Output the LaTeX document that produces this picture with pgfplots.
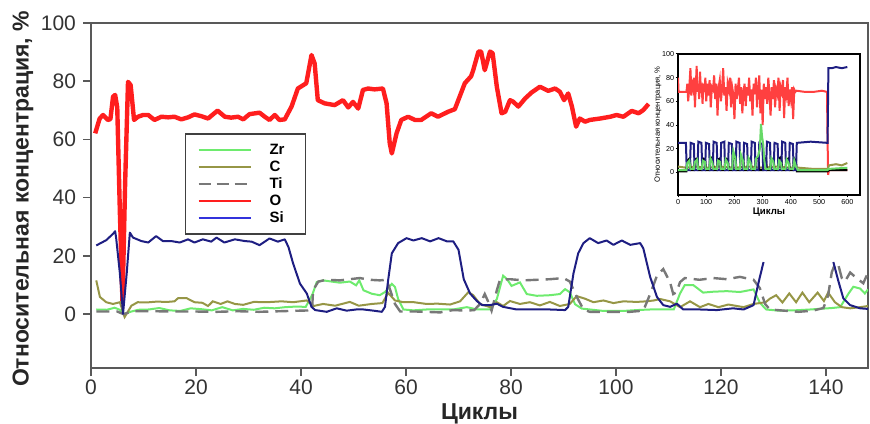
\documentclass[border=0pt]{standalone}
\usepackage{pgfplots}
\pgfplotsset{compat=1.18}
\usepackage{fontspec}
\setmainfont{Liberation Sans}

\definecolor{cZr}{RGB}{110,235,110}
\definecolor{cC}{RGB}{150,150,70}
\definecolor{cTi}{RGB}{120,120,120}
\definecolor{cO}{RGB}{255,30,30}
\definecolor{cSi}{RGB}{30,30,130}
\definecolor{cSiLeg}{RGB}{50,50,220}

\begin{document}
\begin{tikzpicture}
\useasboundingbox (-45.5pt,-27.5pt) rectangle (389.5pt,184pt);

% main chart
\begin{axis}[
  at={(0,0)}, anchor=south west,
  width=388.5pt, height=172.5pt, scale only axis,
  xmin=0, xmax=148, ymin=-18.5, ymax=100,
  xtick={0,20,...,140}, ytick={0,20,...,100},
  xtick pos=bottom, ytick pos=left, tick align=outside,
  major tick length=4pt,
  axis line style={black!65, line width=0.8pt},
  tick style={black!65, line width=0.8pt},
  ticklabel style={font=\fontsize{10.5}{11}\selectfont, text=black!80},
  xticklabel style={inner sep=1.5pt},
  /pgf/number format/assume math mode=true,
  xlabel={Циклы}, ylabel={Относительная концентрация, \%},
  label style={font=\bfseries\fontsize{11.5}{13}\selectfont, text=black!85},
  xlabel style={at={(axis description cs:0.5,-0.133)}, anchor=center},
  ylabel style={at={(axis description cs:-0.0875,0.49)}, anchor=center},
  legend cell align=left,
  legend image code/.code={\draw[#1] (0pt,0pt) -- (26pt,0pt);},
  legend style={at={(axis description cs:0.121,0.68)}, anchor=north west,
    draw=black!75, line width=0.7pt, fill=white,
    font=\bfseries\fontsize{7.5}{8}\selectfont,
    inner xsep=6pt, inner ysep=4.5pt, row sep=1.5pt,
    nodes={inner sep=0pt, text height=5.5pt, text depth=1.5pt},
    /tikz/every odd column/.append style={column sep=9pt},
    /tikz/every even column/.append style={text width=12pt}},
]
\addlegendimage{cZr, line width=0.9pt}\addlegendentry{Zr}
\addlegendimage{cC, line width=0.9pt}\addlegendentry{C}
\addlegendimage{cTi, line width=0.9pt, dash pattern=on 6pt off 3pt}\addlegendentry{Ti}
\addlegendimage{cO, line width=0.9pt}\addlegendentry{O}
\addlegendimage{cSiLeg, line width=0.9pt}\addlegendentry{Si}

% O
\addplot[cO, line width=2.2pt, line join=round, forget plot] coordinates {
(0.8,62.1)(1.65,67.2)(2.3,68.4)(3.2,66.7)(3.7,67)(4.2,74.7)(4.6,75.3)(5.0,71)(5.5,35)(6.0,4)(6.5,45)
(7.05,79.8)(7.55,78.7)(8.2,66.7)(8.95,67.8)(9.9,68.4)(10.9,68.4)(12.1,66.7)(13.4,67.8)(14.7,67.6)
(15.9,67.8)(17.2,66.9)(18.5,67.6)(19.7,68.6)(21.0,68.0)(22.3,67.2)(24.1,69.9)(25.5,67.8)(26.7,67.5)
(28.0,67.8)(29.0,66.9)(30.2,68.7)(32.1,69.2)(33.1,67.8)(34.0,66.7)(35.0,68.4)(35.9,66.7)(36.9,66.9)
(38.2,71.3)(39.4,77.5)(41.0,79.3)(42.0,89.0)(42.6,86.1)(43.2,73.5)(44.5,72.4)(46.4,71.8)(48.0,73.5)
(49.0,71)(49.9,72.9)(50.9,70.6)(51.8,77.0)(52.8,77.5)(54.0,77.2)(55.6,77.5)(56.3,72.4)(56.9,58.7)
(57.3,55.2)(58.2,62.1)(59.1,66.7)(60.4,67.8)(61.7,66.7)(62.9,66.7)(64.8,69.0)(66.1,67.8)(68.0,69.5)
(69.3,70.4)(71.2,79.3)(72.4,81.7)(72.8,83.8)(73.8,90.2)(74.3,90.2)(75.0,83.8)(76.0,90.2)(76.5,89.6)
(77.3,78.1)(78.2,69.0)(78.9,69.5)(79.8,73.5)(80.4,73.0)(81.4,71.3)(82.7,74.1)(83.9,76.1)(85.5,78.1)
(87.1,76.7)(88.4,77.5)(89.3,76.4)(90.1,73.5)(90.9,75.8)(91.6,71.3)(92.4,64.4)(93.1,67.2)(94.1,66.1)
(95.0,66.7)(97.0,67.2)(98.9,67.8)(100.1,68.4)(101.4,67.8)(103.0,69.8)(104.3,69.0)(105.2,70.1)(106.2,72.2)
};

% Zr
\addplot[cZr, line width=1pt, forget plot] coordinates {
(1,1.6)(3,1.5)(4.5,2.2)(5.5,1.5)(6.2,0)(7.5,0.8)(9,1.5)(11,1.6)(13,2.1)(15,1.3)(17,1.1)(19,2.0)
(21,1.7)(23,1.3)(25,2.4)(27,1.3)(29,1.8)(31,1.5)(33,2.2)(35,2.0)(37,2.4)(39,2.6)(40.9,2.5)(42.2,6.9)
(43,11)(44.2,11.6)(47.4,10.8)(49.3,11.2)(50.5,9.9)(51.1,11.6)(51.9,8.2)(53.5,7.0)(55.0,6.5)(56.0,7.6)
(57.3,10.4)(57.9,9.3)(58.5,5.2)(59.5,1.6)(61.4,1.3)(63.9,1.6)(66.5,1.6)(69.0,1.6)(71.6,2.4)(73.5,1.6)
(76,1.6)(77.3,5.2)(78.5,13.2)(79.2,12.1)(80.1,9.7)(81.7,10.9)(83,6.9)(84.9,6.3)(87.4,6.5)(89.3,6.9)
(90.3,8.6)(91.2,7.5)(92.2,3.4)(93.5,1.9)(97.6,1.1)(101.4,1.1)(104,1.4)(106.5,1.6)(108.4,1.6)(111,1.6)
(112.2,7.1)(113.1,10.0)(114.7,10)(116.6,7.4)(118.5,7.7)(121.1,7.9)(123.6,7.6)(126.2,8.5)(126.8,6.2)
(127.4,3.9)(128.6,1.6)(131,1.2)(134,1.3)(137,1.6)(141.1,2.1)(142.7,2.4)(144.3,7.1)(145.2,9.4)
(146.5,8.8)(147.4,7.1)(148,8.5)
};

% C
\addplot[cC, line width=1pt, forget plot] coordinates {
(1.0,11.6)(1.7,5.9)(2.9,4.1)(4.2,3.5)(5.5,4.1)(6.4,-1)(7.7,2.9)(8.9,4.1)(10.5,4.0)(12.5,4.3)(14.5,4.2)
(15.9,4.4)(16.6,5.5)(18.2,5.5)(19.7,4.1)(21.2,3.9)(22.3,2.8)(23.2,4.4)(24.7,3.5)(26,4.4)(27.4,3.5)
(29,3.2)(31.0,4.2)(33.5,4.1)(36.3,4.4)(38.5,4.1)(41.1,4.7)(42.4,2.8)(44.2,3.5)(46.5,2.9)(49.3,4.2)
(51,2.9)(53.5,3.5)(55.5,3.8)(56.6,7.3)(57.9,4.7)(59.5,4.1)(61.5,4.1)(63.9,3.5)(66,3.6)(68.4,3.3)
(70.3,4.4)(71.9,7.6)(72.8,6.5)(74.1,3.5)(76,2.4)(77.3,4.1)(78.5,2.8)(79.8,4.5)(81.7,3.5)(83.6,4.1)
(85.5,3.0)(87.4,4.2)(89.3,2.8)(91.2,3.5)(92.5,6.2)(94.1,5.3)(95.7,4.1)(97.6,4.7)(99.5,3.8)(101.4,4.4)
(103.9,4.2)(105.8,4.4)(107.2,4.7)(108.4,5.2)(110.3,4.4)(112.2,2.4)(114.1,4.4)(116,2.4)(117.6,3.5)
(119.5,2.4)(121.4,3.3)(124.3,2.4)(126.2,3.5)(128.5,4.1)(129.3,5.3)(130.5,6.5)(131.7,4.0)(133,7.1)
(134.3,4.1)(135.5,7.4)(136.8,4.1)(138.4,7.4)(139.6,4.5)(140.4,7.4)(141.7,4.1)(143,2.4)(144.6,2.0)
(146.5,2.4)(148,2.8)
};

% Ti
\addplot[cTi, line width=1.2pt, dash pattern=on 6.5pt off 3.5pt, forget plot] coordinates {
(1,0.9)(5,0.9)(6.2,0)(8,1.0)(12,1.0)(16,0.9)(20,0.9)(24,0.8)(28,1.0)(32,0.8)(36,1.0)(40,1.2)(42.1,1.3)
(42.3,8.2)(43.3,11.2)(44.9,11.8)(47.4,11.6)(49.3,12.0)(51.2,12.4)(53.1,11.8)(55,11.6)(56.3,11.8)(57,8.2)
(57.9,3.5)(58.9,0.9)(62,0.9)(66.5,0.6)(69,1.4)(71.6,1.2)(73,1.4)(74.1,3.5)(75,6.9)(75.7,4.1)(76.3,1.2)
(77.3,8.2)(77.9,11.8)(79.8,12.0)(82.4,11.6)(84.9,11.8)(87.4,12.0)(90,12.4)(91.2,11.2)(92.5,6.0)(93.8,1.6)
(95,0.8)(99,0.8)(102.7,0.8)(105.2,1.2)(106.5,6.9)(107.8,13.2)(109.0,15.5)(110.3,10.9)(110.9,6.9)
(111.5,7.5)(112.2,11.0)(113.1,12.4)(115.9,11.8)(118.5,12.4)(121.1,12.0)(123.6,12.8)(126.2,11.8)
(127.4,8.9)(128.4,3.5)(129.3,1.6)(132,1.2)(134.8,0.8)(137.5,1.2)(139.5,2.1)(140.4,6.4)(141.1,14.4)
(141.7,17.2)(142.3,17.2)(143,12.4)(143.6,11.2)(144.6,14.3)(145.8,12.4)(147.1,10.6)(148,14.3)
};

% Si, first part
\addplot[cSi, line width=1pt, line join=round, forget plot] coordinates {
(1.0,23.6)(2.9,25.4)(4.2,27.6)(4.6,28.5)(4.8,26)(5.5,14)(6.1,0.1)(6.8,14)(7.4,28)(8.0,26.3)(9.6,25.1)
(10.9,24.6)(12.4,26.8)(13.7,25.1)(15.3,25.1)(16.9,24.6)(18.5,25.7)(19.7,24.6)(21.3,25.7)(22.9,24.9)
(23.9,26.3)(25.4,24.6)(27.4,25.7)(29.3,25.1)(30.6,24.9)(32.1,23.7)(34.0,26)(35.6,24.9)(36.9,25.7)
(37.6,23.1)(38.5,17.4)(39.8,10.5)(41.1,7.1)(42.0,2.5)(42.7,1.4)(44.9,0.8)(46.8,2)(48.7,1.2)(50.5,1.6)
(51.9,1.6)(53.8,1.2)(55.4,0.8)(56.0,2.5)(56.6,11.7)(57.3,20.9)(58.5,24.4)(60.1,26.1)(61.4,25.3)
(63.0,26.1)(64.6,25)(66.2,26.1)(67.8,25)(69.0,25)(70.0,22.1)(71.0,12)(72.2,7.1)(73.5,4.5)(74.5,3.1)
(76.0,3.1)(77.3,3.6)(78.5,2.5)(81.1,1.6)(84.2,1.6)(87.4,1.6)(90.3,1.4)(90.9,2.5)(91.9,14)(92.8,20.9)
(93.8,24.4)(95.0,26.1)(96.6,24.4)(98.2,25.3)(99.5,23.8)(101.1,25.3)(102.7,23.8)(104.6,24.4)(105.2,22.6)
(106.5,12.8)(107.8,5.9)(109.0,3.1)(110.3,2.5)(111.6,3.6)(112.8,1.6)(116.0,1.6)(119.2,1.4)(122.3,2)
(124.3,1.6)(126.2,3.1)(127.1,10.5)(128.1,17.9)
};
% Si, second part
\addplot[cSi, line width=1pt, line join=round, forget plot] coordinates {
(141.4,17.9)(142.3,11.7)(143.3,5.4)(144.6,3.1)(146.5,2.0)(148,1.8)
};
\end{axis}

% inset chart
\begin{axis}[
  at={(293.5pt,86.5pt)}, anchor=south west,
  width=91pt, height=70.5pt, scale only axis,
  xmin=0, xmax=645, ymin=-19, ymax=100,
  xtick={0,100,...,600}, ytick={0,20,...,100},
  xtick pos=bottom, ytick pos=left, tick align=outside,
  major tick length=1.2pt,
  axis line style={black, line width=0.9pt},
  tick style={black, line width=0.5pt},
  ticklabel style={font=\fontsize{3.6}{4}\selectfont, inner sep=0.6pt},
  /pgf/number format/assume math mode=true,
  xlabel={Циклы}, ylabel={Относительная концентрация, \%},
  xlabel style={font=\bfseries\fontsize{4.8}{5}\selectfont, at={(axis description cs:0.5,-0.12)}, anchor=center},
  ylabel style={font=\fontsize{3.8}{4}\selectfont, at={(axis description cs:-0.11,0.5)}, anchor=center},
]
\addplot[cO!85, line width=1pt] coordinates {
(0,80)(2,68)(30,68)(33,75)(36,60)(40,72)(44,88)(47,65)(50,75)(54,70)(57,80)(60,55)(63,72)(66,90)(69,68)
(72,75)(75,62)(78,85)(81,70)(84,72)(87,58)(90,75)(93,68)(97,80)(100,60)(104,75)(108,65)(112,78)(116,55)
(120,72)(124,70)(128,82)(132,62)(136,75)(140,48)(144,72)(148,78)(152,60)(156,70)(160,88)(164,65)(168,72)
(172,52)(176,75)(180,70)(184,80)(188,55)(192,72)(196,66)(200,45)(204,75)(208,62)(212,70)(216,80)(220,58)
(224,72)(228,50)(232,68)(236,75)(240,56)(244,72)(248,65)(252,80)(256,60)(260,70)(264,48)(268,75)(272,66)
(276,80)(280,55)(284,70)(288,82)(292,50)(296,70)(300,40)(304,75)(308,62)(312,72)(316,58)(320,80)(324,66)
(328,48)(332,72)(336,62)(340,78)(344,55)(348,70)(352,66)(356,80)(360,52)(364,72)(368,68)(372,78)(376,46)
(380,72)(384,66)(388,80)(392,56)(396,70)(400,62)(404,72)(408,45)(412,70)(416,68)(420,69)(450,68)(480,68)
(510,69)(528,68)(530,28)(532,-2)(535,2)(600,2)
};
\addplot[cC, line width=1pt] coordinates {
(0,5)(30,4)(60,5)(100,4)(150,5)(200,4)(250,5)(300,4)(350,5)(400,4)(430,4)(480,3)(530,3)(535,6)(560,7)
(580,6)(600,8)
};
\addplot[black, line width=1pt] coordinates {
(0,1)(30,1)(33,10)(42,12)(45,2)(57,2)(60,11)(69,12)(72,2)(84,2)(87,12)(96,11)(99,2)(111,2)(114,12)
(123,13)(126,2)(138,2)(141,11)(150,12)(153,2)(165,2)(168,12)(177,11)(180,2)(192,2)(195,12)(204,13)
(207,2)(219,2)(222,11)(231,12)(234,2)(246,2)(249,12)(258,11)(261,2)(273,2)(276,12)(285,13)(288,2)
(300,2)(303,11)(312,12)(315,2)(327,2)(330,12)(339,11)(342,2)(354,2)(357,12)(366,13)(369,2)(381,2)
(384,11)(393,12)(396,2)(408,2)(411,12)(418,10)(421,1)(530,1)(535,2)(600,2)
};
\addplot[cSi, line width=1pt] coordinates {
(0,25)(28,25)(31,2)(42,2)(45,25)(56,24)(59,2)(69,2)(72,26)(83,25)(86,2)(96,2)(99,25)(110,24)(113,2)
(123,2)(126,26)(137,25)(140,2)(150,2)(153,25)(164,26)(167,2)(177,2)(180,25)(191,24)(194,2)(204,2)
(207,26)(218,25)(221,2)(231,2)(234,25)(245,24)(248,2)(258,2)(261,26)(272,25)(275,2)(285,2)(288,25)
(299,24)(302,2)(312,2)(315,26)(326,25)(329,2)(339,2)(342,25)(353,24)(356,2)(366,2)(369,26)(380,25)
(383,2)(393,2)(396,25)(407,24)(410,2)(418,2)(421,25)(470,26)(530,25)(533,88)(545,88)(560,89)(580,88)
(600,89)
};
\addplot[green!75!black!60!white, line width=1pt] coordinates {
(0,2)(30,2)(33,8)(40,10)(44,3)(56,3)(60,9)(68,11)(71,3)(84,3)(88,10)(95,9)(98,3)(111,3)(115,12)(122,8)
(125,3)(138,3)(142,10)(149,9)(152,3)(165,3)(169,11)(176,8)(179,3)(192,3)(196,18)(203,12)(206,3)(219,3)
(223,15)(230,10)(233,3)(246,3)(250,12)(257,8)(260,3)(273,3)(277,12)(284,14)(290,20)(294,41)(298,30)
(302,24)(306,10)(310,3)(327,3)(331,12)(338,9)(341,3)(354,3)(358,10)(365,8)(368,3)(381,3)(385,11)
(392,8)(395,3)(408,3)(412,10)(418,5)(425,2)(530,2)(533,3)(600,4)
};
\end{axis}
\end{tikzpicture}
\end{document}
